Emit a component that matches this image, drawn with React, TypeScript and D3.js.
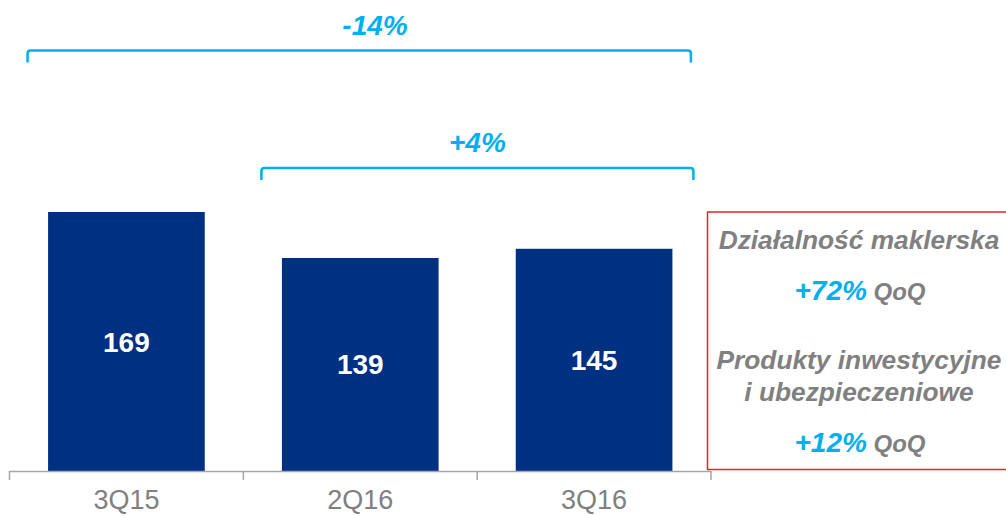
import React from 'react'
import * as d3 from 'd3'

const categories = ['3Q15', '2Q16', '3Q16']
const values = [169, 139, 145]
const changes = [
  { from: '3Q15', to: '3Q16', label: '-14%', y: 50.5 },
  { from: '2Q16', to: '3Q16', label: '+4%', y: 168 },
]
const notes = [
  { lines: ['Działalność maklerska'], pct: '+72%', suffix: 'QoQ' },
  { lines: ['Produkty inwestycyjne', 'i ubezpieczeniowe'], pct: '+12%', suffix: 'QoQ' },
]

const W = 1006
const H = 516
const FONT = '"Liberation Sans", Arial, Helvetica, sans-serif'
const BLUE = '#00B0EE'
const NAVY = '#003082'
const GREY = '#808080'

export default function App() {
  const baseY = 471
  const x = d3.scaleBand<string>()
    .domain(categories)
    .range([9.5, 711])
    .paddingInner(0.33)
    .paddingOuter(0.165)
  const y = d3.scaleLinear().domain([0, 169]).range([baseY, 212])

  const step = x.step()
  const tickXs = d3.range(categories.length + 1).map(i => 9.5 + i * step)

  // bracket with small rounded corners
  const bracket = (x0: number, x1: number, yy: number) => {
    const r = 3, h = 12
    return `M${x0},${yy + h} V${yy + r} Q${x0},${yy} ${x0 + r},${yy} H${x1 - r} Q${x1},${yy} ${x1},${yy + r} V${yy + h}`
  }

  return (
    <svg width={W} height={H} style={{ position: 'absolute', left: 0, top: 0, background: '#fff' }} fontFamily={FONT}>
      {/* bars */}
      {categories.map((c, i) => (
        <g key={c}>
          <rect x={x(c)} y={y(values[i])} width={x.bandwidth()} height={baseY - y(values[i])} fill={NAVY} />
          <text x={x(c)! + x.bandwidth() / 2} y={(y(values[i]) + baseY) / 2 + 10} textAnchor="middle"
            fill="#fff" fontWeight="bold" fontSize={28}>{values[i]}</text>
          <text x={x(c)! + x.bandwidth() / 2} y={509} textAnchor="middle" fill={GREY} fontSize={27}>{c}</text>
        </g>
      ))}

      {/* axis */}
      <line x1={tickXs[0]} x2={tickXs[tickXs.length - 1]} y1={baseY + 0.5} y2={baseY + 0.5} stroke="#A6A6A6" strokeWidth={1.5} />
      {tickXs.map((t, i) => (
        <line key={i} x1={t} x2={t} y1={baseY} y2={baseY + 9} stroke="#A6A6A6" strokeWidth={1.5} />
      ))}

      {/* change brackets */}
      {changes.map((d, i) => {
        const x0 = x(d.from)! - 20.5
        const x1 = x(d.to)! + x.bandwidth() + (i === 0 ? 18.5 : 21)
        return (
          <g key={d.label}>
            <path d={bracket(x0, x1, d.y)} fill="none" stroke={BLUE} strokeWidth={2.5} />
            <text x={i === 0 ? 375 : (x0 + x1) / 2} y={d.y - 16} textAnchor="middle" fill={BLUE}
              fontWeight="bold" fontStyle="italic" fontSize={28}>{d.label}</text>
          </g>
        )
      })}

      {/* note box */}
      <rect x={707.5} y={212} width={320} height={257.5} fill="none" stroke="#E8202A" strokeWidth={1.5} />
      <g fontWeight="bold" fontStyle="italic" textAnchor="middle">
        <text x={859} y={249} fill={GREY} fontSize={26.3}>{notes[0].lines[0]}</text>
        <text x={860} y={300}>
          <tspan fill={BLUE} fontSize={28}>{notes[0].pct}</tspan>
          <tspan fill={GREY} fontSize={24}> {notes[0].suffix}</tspan>
        </text>
        <text x={859} y={369} fill={GREY} fontSize={26.3}>{notes[1].lines[0]}</text>
        <text x={859} y={401} fill={GREY} fontSize={26.3}>{notes[1].lines[1]}</text>
        <text x={860} y={452}>
          <tspan fill={BLUE} fontSize={28}>{notes[1].pct}</tspan>
          <tspan fill={GREY} fontSize={24}> {notes[1].suffix}</tspan>
        </text>
      </g>
    </svg>
  )
}
